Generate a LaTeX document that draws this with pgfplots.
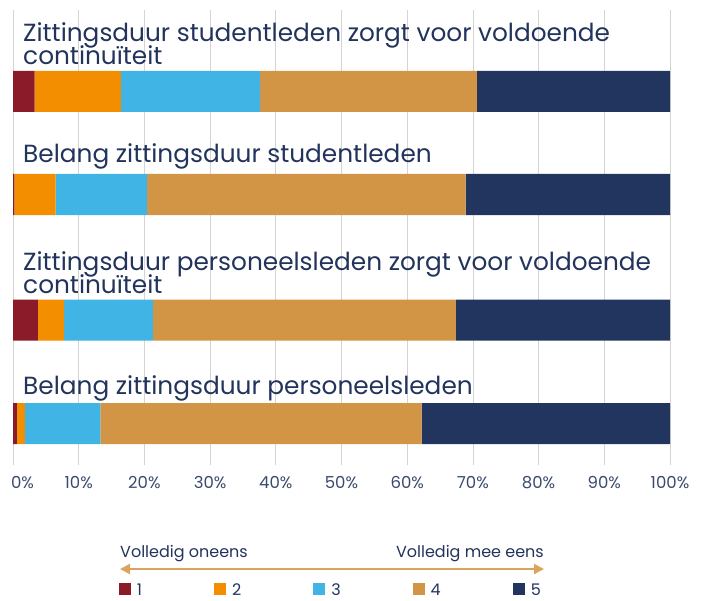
\documentclass[border=0pt]{standalone}
\usepackage{fontspec}
\setmainfont{Poppins}
\usepackage{pgfplots}
\pgfplotsset{compat=1.18}
\usetikzlibrary{arrows.meta}
\definecolor{cA}{HTML}{8C1B2A}
\definecolor{cB}{HTML}{F28E00}
\definecolor{cC}{HTML}{41B4E6}
\definecolor{cD}{HTML}{D29546}
\definecolor{cE}{HTML}{21355E}
\definecolor{txt}{HTML}{22335C}
\definecolor{ticktxt}{HTML}{3A4A6E}
\definecolor{gridgray}{HTML}{D4D4D4}
\definecolor{arrowc}{HTML}{DBA35C}
\tikzset{ttl/.style={anchor=base west, inner sep=0pt, text=txt, font=\fontsize{24.8}{24}\selectfont, xshift=10pt}}
\begin{document}
\begin{tikzpicture}[x=1pt,y=1pt]
\useasboundingbox (0,0) rectangle (708,-601);
\begin{axis}[
  at={(13pt,-10pt)}, anchor=north west,
  width=657pt, height=455pt, scale only axis,
  xmin=0, xmax=100, ymin=-465, ymax=-10,
  xbar stacked, bar width=41pt,
  axis line style={draw=none},
  ytick=\empty,
  xtick={0,10,...,100},
  xticklabels={\makebox[0pt][l]{\hspace{-2pt}0\%},10\%,20\%,30\%,40\%,50\%,60\%,70\%,80\%,90\%,100\%},
  major tick length=0pt,
  xmajorgrids,
  grid style={draw=gridgray, line width=0.8pt},
  /pgf/number format/assume math mode=true,
  tick label style={font=\fontsize{16.5}{16.5}\selectfont, text=ticktxt},
  xticklabel style={yshift=-8pt},
  legend style={at={(0.1613,-0.2747)}, anchor=west, draw=none, fill=none,
    inner sep=0pt, outer sep=0pt, column sep=6pt,
    /tikz/every even column/.append style={column sep=72pt},
    nodes={inner sep=0pt, anchor=west, text=txt},
    font=\fontsize{16}{16}\selectfont},
  legend columns=5,
  legend image code/.code={\fill[#1] (0pt,-4pt) rectangle (12pt,8pt);},
]
\addplot[fill=cA, draw=none] coordinates {(3.3,-91.5) (0.2,-194.5) (3.8,-320) (0.6,-423.5)};
\addplot[fill=cB, draw=none] coordinates {(13.1,-91.5) (6.3,-194.5) (4.0,-320) (1.2,-423.5)};
\addplot[fill=cC, draw=none] coordinates {(21.2,-91.5) (13.9,-194.5) (13.5,-320) (11.5,-423.5)};
\addplot[fill=cD, draw=none] coordinates {(33.0,-91.5) (48.5,-194.5) (46.1,-320) (48.9,-423.5)};
\addplot[fill=cE, draw=none] coordinates {(29.4,-91.5) (31.1,-194.5) (32.6,-320) (37.8,-423.5)};
\legend{1,2,3,4,5}
\node[ttl] at (axis cs:0,-42) {Zittingsduur studentleden zorgt voor voldoende};
\node[ttl] at (axis cs:0,-65) {continuïteit};
\node[ttl] at (axis cs:0,-163) {Belang zittingsduur studentleden};
\node[ttl] at (axis cs:0,-270) {Zittingsduur personeelsleden zorgt voor voldoende};
\node[ttl] at (axis cs:0,-293) {continuïteit};
\node[ttl] at (axis cs:0,-394) {Belang zittingsduur personeelsleden};
\end{axis}
\draw[{Triangle[length=10pt,width=10pt]}-{Triangle[length=10pt,width=10pt]}, arrowc, line width=2pt] (120,-569) -- (544,-569);
\node[anchor=base west, inner sep=0pt, text=txt, font=\fontsize{16}{16}\selectfont] at (120,-557) {Volledig oneens};
\node[anchor=base east, inner sep=0pt, text=txt, font=\fontsize{16}{16}\selectfont] at (544,-557) {Volledig mee eens};
\end{tikzpicture}
\end{document}
